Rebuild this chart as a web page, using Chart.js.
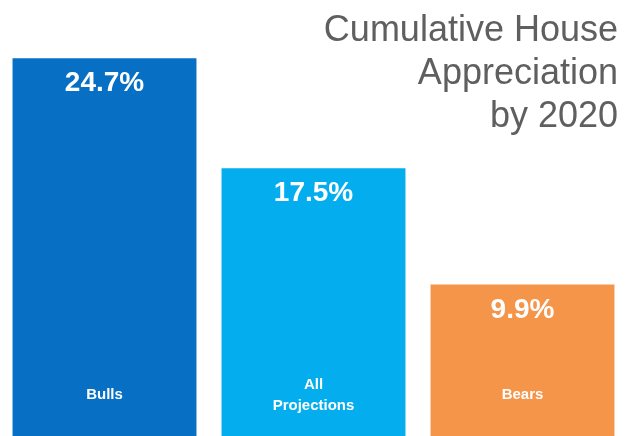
<!DOCTYPE html>
<html>
<head>
<meta charset="utf-8">
<script src="https://cdn.jsdelivr.net/npm/chart.js@4"></script>
<style>
    html, body { margin: 0; padding: 0; background: #fff; }
    #wrap { width: 637px; height: 436px; position: relative; }
</style>
</head>
<body>
<div id="wrap"><canvas id="chart"></canvas></div>
<script>
const categories = [['Bulls'], ['All', 'Projections'], ['Bears']];
const appreciation = [24.7, 17.5, 9.9];
const barColors = ['#0870c4', '#03adee', '#f5954a'];
const titleLines = ['Cumulative House', 'Appreciation', 'by 2020'];

// white value at the top of each bar, category name at the bottom
const barText = {
    id: 'barText',
    afterDatasetsDraw(chart) {
        const ctx = chart.ctx;
        const meta = chart.getDatasetMeta(0);
        ctx.save();
        ctx.fillStyle = '#fff';
        ctx.textAlign = 'center';
        meta.data.forEach((bar, i) => {
            ctx.textBaseline = 'alphabetic';
            ctx.font = 'bold 28px "Liberation Sans", Arial, sans-serif';
            ctx.fillText(appreciation[i].toFixed(1) + '%', bar.x, bar.y + 33);
            ctx.textBaseline = 'middle';
            ctx.font = 'bold 15px "Liberation Sans", Arial, sans-serif';
            const lines = categories[i];
            const lineH = 21;
            const startY = 395 - (lines.length - 1) * lineH / 2;
            lines.forEach((t, j) => ctx.fillText(t, bar.x, startY + j * lineH));
        });
        ctx.restore();
    }
};

const cornerTitle = {
    id: 'cornerTitle',
    afterDraw(chart) {
        const ctx = chart.ctx;
        ctx.save();
        ctx.fillStyle = '#5f5f5f';
        ctx.textAlign = 'right';
        ctx.textBaseline = 'alphabetic';
        ctx.font = '36px "Liberation Sans", Arial, sans-serif';
        titleLines.forEach((t, i) => ctx.fillText(t, 618, 41 + i * 43));
        ctx.restore();
    }
};

new Chart(document.getElementById('chart'), {
    type: 'bar',
    data: {
        labels: categories.map(c => c.join(' ')),
        datasets: [{
            data: appreciation,
            backgroundColor: barColors,
            borderWidth: 0,
            categoryPercentage: 1,
            barPercentage: 0.88
        }]
    },
    options: {
        responsive: true,
        maintainAspectRatio: false,
        animation: false,
        layout: { padding: { left: 0, right: 10, top: 0, bottom: 0 } },
        plugins: {
            legend: { display: false },
            tooltip: { enabled: false },
            title: { display: false }
        },
        scales: {
            x: { display: false },
            y: { display: false, min: 0, max: 28.5 }
        }
    },
    plugins: [barText, cornerTitle]
});
</script>
</body>
</html>
